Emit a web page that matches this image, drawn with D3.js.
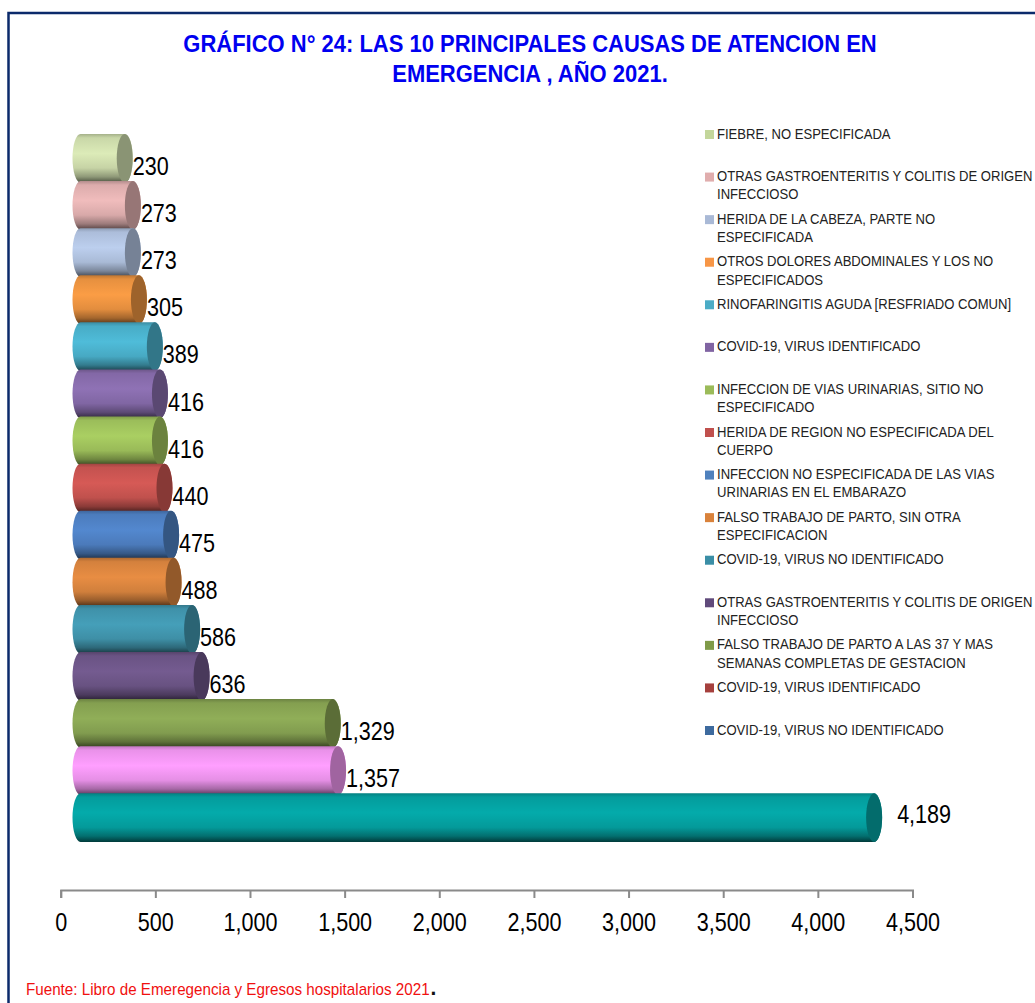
<!DOCTYPE html>
<html>
<head>
<meta charset="utf-8">
<script src="https://cdn.jsdelivr.net/npm/d3@7"></script>
<style>
  html, body { margin: 0; padding: 0; background: #fff; overflow: hidden; }
  svg { display: block; }
  text { font-family: "Liberation Sans", Arial, sans-serif; }
</style>
</head>
<body>
<div id="chart"></div>
<script>
// top to bottom, same order as the picture
const categories = [
  "FIEBRE, NO ESPECIFICADA",
  "OTRAS GASTROENTERITIS Y COLITIS DE ORIGEN|INFECCIOSO",
  "HERIDA DE LA CABEZA, PARTE NO|ESPECIFICADA",
  "OTROS DOLORES ABDOMINALES Y LOS NO|ESPECIFICADOS",
  "RINOFARINGITIS AGUDA [RESFRIADO COMUN]",
  "COVID-19, VIRUS IDENTIFICADO",
  "INFECCION DE VIAS URINARIAS, SITIO NO|ESPECIFICADO",
  "HERIDA DE REGION NO ESPECIFICADA DEL|CUERPO",
  "INFECCION NO ESPECIFICADA DE LAS VIAS|URINARIAS EN EL EMBARAZO",
  "FALSO TRABAJO DE PARTO, SIN OTRA|ESPECIFICACION",
  "COVID-19, VIRUS NO IDENTIFICADO",
  "OTRAS GASTROENTERITIS Y COLITIS DE ORIGEN|INFECCIOSO",
  "FALSO TRABAJO DE PARTO A LAS 37 Y MAS|SEMANAS COMPLETAS DE GESTACION",
  "COVID-19, VIRUS IDENTIFICADO",
  "COVID-19, VIRUS NO IDENTIFICADO"
];
const values = [230, 273, 273, 305, 389, 416, 416, 440, 475, 488, 586, 636, 1329, 1357, 4189];
const barColors = ["#dcebb8", "#f0bcbc", "#bccfee", "#fb9d45", "#4fbcd9", "#8f72b5", "#aacf62", "#d65a56",
  "#5388cf", "#e88d43", "#459fb9", "#745b90", "#90ae58", "#ff9fff", "#04abab"];
const legendColors = ["#c3d69b", "#e0adad", "#a9b9d6", "#f79646", "#4bacc6", "#8064a2", "#9bbb59", "#c0504d",
  "#4f81bd", "#d9823b", "#3a8ea6", "#604a7b", "#7f9a48", "#a5403d", "#3d6a9e"];
const xTicks = [0, 500, 1000, 1500, 2000, 2500, 3000, 3500, 4000, 4500];
const titleLines = ["GRÁFICO N° 24: LAS 10 PRINCIPALES CAUSAS DE ATENCION EN", "EMERGENCIA , AÑO 2021."];
const source = "Fuente: Libro de Emeregencia y Egresos hospitalarios 2021";

const W = 1035, H = 1003;
// the picture's text is horizontally condensed, by a different amount per block
const squeeze = 0.83, titleSqueeze = 0.956, legendSqueeze = 0.844, noteSqueeze = 0.95;

const svg = d3.select("#chart").append("svg").attr("width", W).attr("height", H);
const defs = svg.append("defs");

// frame, only top and left show inside the window
svg.append("rect")
  .attr("x", 8.5).attr("y", 13)
  .attr("width", 1200).attr("height", 1200)
  .attr("fill", "#fff")
  .attr("stroke", "#0b2a6b").attr("stroke-width", 2.5);

// title
svg.append("g").selectAll("text")
  .data(titleLines)
  .join("text")
    .attr("transform", (d, i) => `translate(530,${52 + i * 30}) scale(${titleSqueeze},1)`)
    .attr("text-anchor", "middle")
    .attr("font-size", 23)
    .attr("font-weight", "bold")
    .attr("fill", "#0000f0")
    .text(d => d);

// scales
const x = d3.scaleLinear().domain([0, 4500]).range([60.7, 912.5]);
const y = d3.scaleBand().domain(d3.range(values.length)).range([134, 840.4]);
const legendY = d3.scalePoint().domain(d3.range(categories.length)).range([134, 730]);

// cylinder geometry
const depth = 20.5, rx = 8, overlap = 1.5;

barColors.forEach((c, i) => {
  const g = defs.append("linearGradient")
    .attr("id", "bar" + i)
    .attr("x1", 0).attr("y1", 0).attr("x2", 0).attr("y2", 1);
  const stops = [
    [0, d3.color(c).darker(0.8)],
    [0.08, d3.color(c).darker(0.25)],
    [0.4, d3.color(c)],
    [0.7, d3.color(c).darker(0.3)],
    [0.88, d3.color(c).darker(1.2)],
    [1, d3.color(c).darker(3)]
  ];
  g.selectAll("stop").data(stops).join("stop")
    .attr("offset", d => d[0])
    .attr("stop-color", d => d[1]);
});

// bars, drawn top to bottom so each one sits over the previous
const bars = svg.append("g").selectAll("g")
  .data(values)
  .join("g");

bars.append("path")
  .attr("d", (d, i) => {
    const top = y(i), bot = y(i) + y.bandwidth() + overlap, ry = (bot - top) / 2;
    const a = x(0) + depth - 0.7, b = x(d) + depth;
    return `M${a},${top}L${b},${top}A${rx},${ry} 0 0 1 ${b},${bot}L${a},${bot}A${rx},${ry} 0 0 1 ${a},${top}Z`;
  })
  .attr("fill", (d, i) => `url(#bar${i})`);

bars.append("ellipse")
  .attr("cx", d => x(d) + depth)
  .attr("cy", (d, i) => y(i) + (y.bandwidth() + overlap) / 2)
  .attr("rx", rx)
  .attr("ry", (y.bandwidth() + overlap) / 2)
  .attr("fill", (d, i) => d3.color(barColors[i]).darker(1.3));

// value labels
const maxValue = d3.max(values);
svg.append("g").selectAll("text")
  .data(values)
  .join("text")
    .attr("transform", (d, i) => {
      const big = d === maxValue;
      const lx = x(d) + depth + rx + (big ? 15 : 0);
      const ly = y(i) + y.bandwidth() / 2 + (big ? -3.5 : 8) + 9.5;
      return `translate(${lx},${ly}) scale(${squeeze},1)`;
    })
    .attr("font-size", 26)
    .attr("fill", "#000")
    .text(d => d3.format(",")(d));

// x axis
const axis = svg.append("g")
  .attr("transform", "translate(0,890)")
  .call(d3.axisBottom(x).tickValues(xTicks).tickFormat(d3.format(",")).tickSize(8).tickPadding(15));
axis.select(".domain").attr("stroke", "#8a8a8a").attr("stroke-width", 2);
axis.selectAll(".tick line").attr("stroke", "#8a8a8a").attr("stroke-width", 2);
axis.selectAll(".tick text")
  .attr("font-size", 26)
  .attr("fill", "#000")
  .attr("transform", `scale(${squeeze},1)`);

// legend
const legend = svg.append("g").selectAll("g")
  .data(categories)
  .join("g")
    .attr("transform", (d, i) => `translate(705,${legendY(i)})`);

legend.append("rect")
  .attr("x", 0).attr("y", -4)
  .attr("width", 9).attr("height", 9)
  .attr("fill", (d, i) => legendColors[i]);

legend.each(function(d) {
  d3.select(this).selectAll("text")
    .data(d.split("|"))
    .join("text")
      .attr("transform", (t, j) => `translate(12,${4.5 + j * 18.4}) scale(${legendSqueeze},1)`)
      .attr("font-size", 15.5)
      .attr("fill", "#222")
      .text(t => t);
});

// source note
const note = svg.append("text")
  .attr("transform", `translate(26,995) scale(${noteSqueeze},1)`)
  .attr("font-size", 16)
  .attr("fill", "#f01010")
  .text(source);
note.append("tspan")
  .attr("dx", 1)
  .attr("fill", "#111")
  .attr("font-weight", "bold")
  .attr("font-size", 22)
  .text(".");
</script>
</body>
</html>
